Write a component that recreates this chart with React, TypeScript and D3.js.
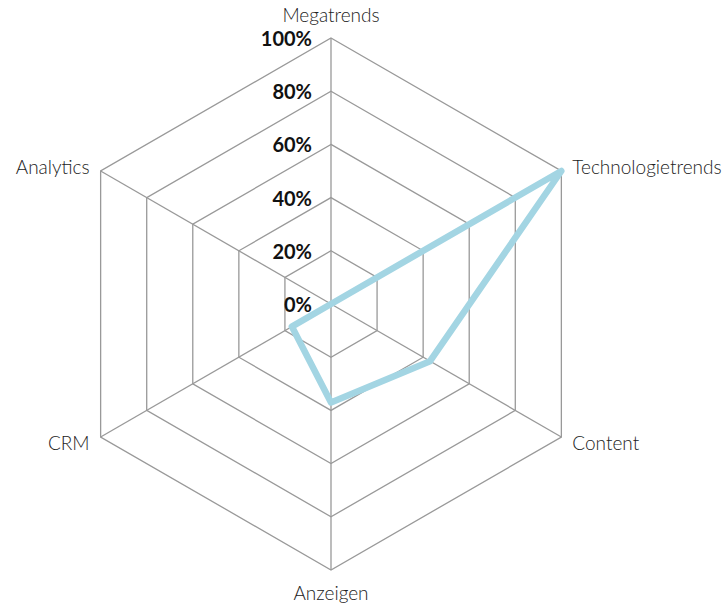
import React from "react";
import * as d3 from "d3";

const categories = ["Megatrends", "Technologietrends", "Content", "Anzeigen", "CRM", "Analytics"];
const values = [0, 100, 43, 37, 17, 0];
const tickValues = [0, 20, 40, 60, 80, 100];
const tickLabels = ["0%", "20%", "40%", "60%", "80%", "100%"];

const W = 728;
const H = 606;
const cx = 331;
const cy = 304;
const R = 266;

export default function App() {
  const r = d3.scaleLinear().domain([0, 100]).range([0, R]);
  const angle = (i: number) => (i * 2 * Math.PI) / categories.length;
  const pt = (i: number, v: number): [number, number] => [
    cx + r(v) * Math.sin(angle(i)),
    cy - r(v) * Math.cos(angle(i)),
  ];

  const ring = (v: number) =>
    d3.line<number>()
      .x((_, i) => pt(i, v)[0])
      .y((_, i) => pt(i, v)[1])
      .curve(d3.curveLinearClosed)(categories.map(() => v)) as string;

  const dataPath = d3.line<number>()
    .x((d, i) => pt(i, d)[0])
    .y((d, i) => pt(i, d)[1])
    .curve(d3.curveLinearClosed)(values) as string;

  // point labels: top/bottom centred, sides offset outward; lower-half labels hang below the vertex
  const labelPos = (i: number) => {
    const [x, y] = pt(i, 100);
    const s = Math.sin(angle(i));
    const c = Math.cos(angle(i));
    let anchor: "start" | "middle" | "end" = "middle";
    let dx = 0;
    let dy = 0;
    if (Math.abs(s) < 0.01) {
      dy = c > 0 ? -16 : 30;
    } else {
      anchor = s > 0 ? "start" : "end";
      dx = s > 0 ? 11 : -11;
      dy = c > 0 ? 3 : 13;
    }
    return { x: x + dx, y: y + dy, anchor };
  };

  return (
    <svg width={W} height={H} style={{ position: "absolute", left: 0, top: 0 }}>
      <rect width={W} height={H} fill="#ffffff" />
      <g fill="none" stroke="#999999" strokeWidth={1.3}>
        {tickValues.filter((t) => t > 0).map((t) => (
          <path key={t} d={ring(t)} />
        ))}
        {categories.map((c, i) => {
          const [x, y] = pt(i, 100);
          return <line key={c} x1={cx} y1={cy} x2={x} y2={y} />;
        })}
      </g>
      <path
        d={dataPath}
        fill="none"
        stroke="#a3d5e3"
        strokeWidth={6.5}
        strokeLinejoin="round"
      />
      <g fontFamily="Lato" fontWeight={700} fontSize={20} fill="#111111" textAnchor="end">
        {tickValues.map((t, k) => (
          <text key={t} x={cx - 19} y={cy - r(t) + 8}>
            {tickLabels[k]}
          </text>
        ))}
      </g>
      <g fontFamily="Lato" fontWeight={300} fontSize={19} fill="#222222">
        {categories.map((c, i) => {
          const p = labelPos(i);
          return (
            <text key={c} x={p.x} y={p.y} textAnchor={p.anchor}>
              {c}
            </text>
          );
        })}
      </g>
    </svg>
  );
}
